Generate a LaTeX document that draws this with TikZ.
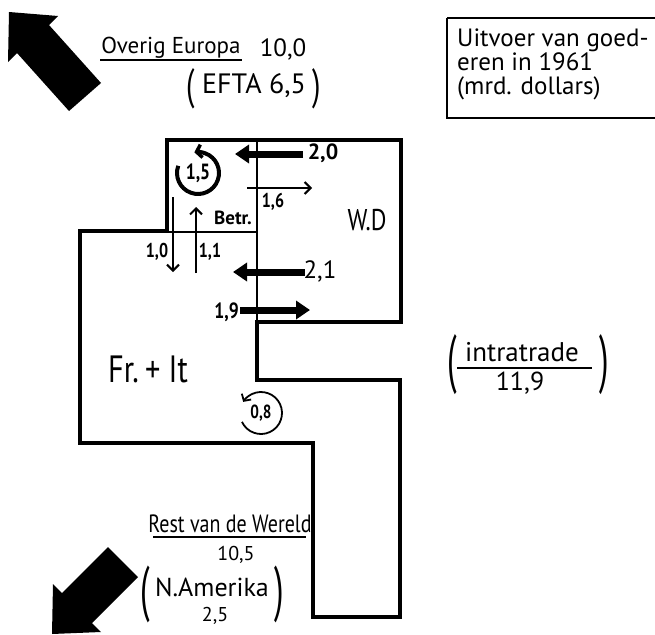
\documentclass[tikz,border=0pt]{standalone}
\usepackage{fontspec}
\setmainfont{PT Sans}
\newfontfamily\handn{PT Sans}[FakeStretch=0.8]
\usetikzlibrary{arrows.meta}
\newcommand{\fs}[1]{\fontsize{#1}{#1}\selectfont}
\newcommand{\bigparen}[3]{\scalebox{1}[#2]{\fs{#1}#3}}
\begin{document}
\begin{tikzpicture}[x=1pt,y=-1pt,
  wall/.style={line width=4pt,line join=miter},
  divider/.style={line width=2.4pt},
  fatarrow/.style={line width=7pt,-{Triangle[length=14pt,width=18pt]}},
  thinarrow/.style={line width=2pt,-{Straight Barb[length=6pt,width=12pt,line width=2pt]}},
  circthick/.style={line width=4pt,-{Straight Barb[length=5pt,width=13pt,line width=3.5pt]}},
  circthin/.style={line width=1.8pt,-{Straight Barb[length=5pt,width=11pt,line width=1.8pt]}},
  lbl/.style={inner sep=1pt,anchor=center},
  uline/.style={line width=1.6pt},
  boxframe/.style={line width=2pt}]
\useasboundingbox (0,0) rectangle (655,634);

% big black arrows
\fill (9,12) -- (58,16) -- (49,25) -- (101,83) -- (69,111) -- (17,53) -- (8,62) -- cycle;
\fill (52,634) -- (53,584) -- (62,593) -- (108,547) -- (138,577) -- (92,623) -- (101,632) -- cycle;

% outline
\draw[wall] (80,231) -- (167,231) -- (167,140) -- (401,140) -- (401,322) -- (257,322)
  -- (257,380) -- (400,380) -- (400,617) -- (313,617) -- (313,443) -- (80,443) -- cycle;
\draw[divider] (167,232) -- (257,232);
\draw[divider] (257,140) -- (257,322);

% legend box
\draw[boxframe] (447,18) -- (662,18);
\draw[boxframe] (447,18) -- (447,118) -- (662,118);
\node[anchor=west,align=left,inner sep=0pt,font=\fontsize{25}{24}\selectfont] (legend) at (457,64)
  {Uitvoer van goed-\\eren in 1961\\(mrd. dollars)};

% top-left labels
\node[lbl] (overig) at (171,48) {\fs{23}Overig Europa};
\draw[uline] (overig.south west) -- (overig.south east);
\node[lbl] (tenzero) at (283,49) {\fs{25}10,0};
\node[lbl] (efta) at (254,86) {\fs{28}EFTA 6,5};
\node[lbl] (eftal) at (191,89) {\bigparen{30}{1.45}{(}};
\node[lbl] (eftar) at (317,89) {\bigparen{30}{1.45}{)}};

% W.D region
\node[lbl] (wd) at (367,220) {\handn\fs{30}W.D};
\node[lbl] (betr) at (233,218) {\fs{19}\bfseries Betr.};

\coordinate (a20s) at (303,154); \coordinate (a20e) at (235,154);
\draw[fatarrow] (a20s) -- (a20e);
\node[lbl] (l20) at (323,153) {\fs{22}\bfseries 2,0};

\coordinate (a16s) at (247,188); \coordinate (a16e) at (312,188);
\draw[thinarrow] (a16s) -- (a16e);
\node[lbl] (l16) at (273,202) {\handn\fs{20}\bfseries 1,6};

\coordinate (a21s) at (305,272); \coordinate (a21e) at (233,272);
\draw[fatarrow] (a21s) -- (a21e);
\node[lbl] (l21) at (320,271) {\fs{25}2,1};

\coordinate (a19s) at (240,310); \coordinate (a19e) at (310,310);
\draw[fatarrow] (a19s) -- (a19e);
\node[lbl,anchor=east] (l19) at (240,312) {\handn\fs{22}\bfseries 1,9};

% circular arrow 1,5
\coordinate (c15) at (198,173);
\draw[circthick] (c15) ++(200:21) arc[start angle=200,end angle=-100,radius=21];
\node[lbl] (l15) at (c15) {\handn\fs{22}\bfseries 1,5};

% vertical arrows
\coordinate (a10s) at (173,197); \coordinate (a10e) at (173,272);
\draw[thinarrow] (a10s) -- (a10e);
\node[lbl] (l10) at (157,252) {\handn\fs{20}\bfseries 1,0};
\coordinate (a11s) at (196,273); \coordinate (a11e) at (196,207);
\draw[thinarrow] (a11s) -- (a11e);
\node[lbl] (l11) at (210,252) {\handn\fs{20}\bfseries 1,1};

% Fr + It region
\node[lbl] (frit) at (148,369) {\handn\fs{38}Fr.\,+ It};
\coordinate (c08) at (261,413);
\draw[circthin] (c08) ++(155:21) arc[start angle=155,end angle=-148,radius=21];
\node[lbl] (l08) at (c08) {\handn\fs{19}\bfseries 0,8};

% intratrade
\node[lbl] (intra) at (522,352) {\fs{27}intratrade};
\draw[uline] (457,368) -- (592,368);
\node[lbl] (i119) at (520,383) {\fs{26}11,9};
\node[lbl] (intral) at (452,365) {\bigparen{34}{1.9}{(}};
\node[lbl] (intrar) at (604,365) {\bigparen{34}{1.9}{)}};

% Rest van de Wereld
\node[lbl] (rest) at (230,524) {\handn\fs{25}Rest van de Wereld};
\draw[uline] (153,537) -- (306,537);
\node[lbl] (tenfive) at (236,555) {\fs{20}10,5};
\node[lbl] (namer) at (212,587) {\fs{26}N.Amerika};
\node[lbl] (twofive) at (215,616) {\fs{20}2,5};
\node[lbl] (namerl) at (145,594) {\bigparen{34}{1.8}{(}};
\node[lbl] (namerr) at (279,594) {\bigparen{34}{1.8}{)}};
\end{tikzpicture}
\end{document}
